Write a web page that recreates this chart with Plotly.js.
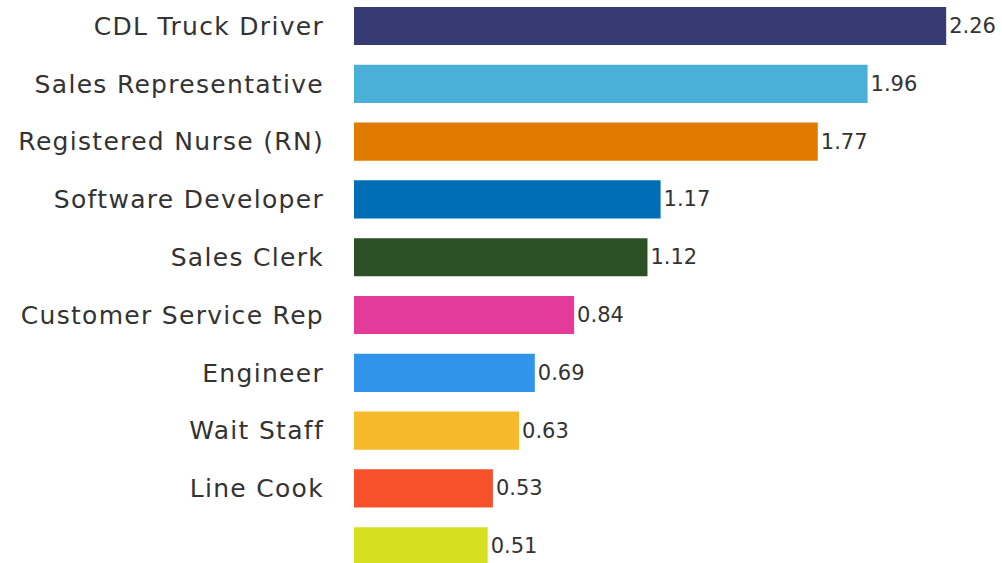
<!DOCTYPE html>
<html>
<head>
<meta charset="utf-8">
<script src="https://cdn.plot.ly/plotly-3.0.1.min.js"></script>
<style>
html,body{margin:0;padding:0;background:#fff;}
#chart{width:1002px;height:563px;}
#chart .ytick text{letter-spacing:1.3px;}
</style>
</head>
<body>
<div id="chart"></div>
<script>
const categories = ["CDL Truck Driver", "Sales Representative", "Registered Nurse (RN)", "Software Developer", "Sales Clerk", "Customer Service Rep", "Engineer", "Wait Staff", "Line Cook", ""];
const values = [2.26, 1.96, 1.77, 1.17, 1.12, 0.84, 0.69, 0.63, 0.53, 0.51];
const valueLabels = ["2.26", "1.96", "1.77", "1.17", "1.12", "0.84", "0.69", "0.63", "0.53", "0.51"];
const barColors = ["#363C73", "#4BB0D8", "#E07B00", "#006DB7", "#2C5127", "#E43A99", "#3094EA", "#F6B92B", "#F6512B", "#D7DF21"];

const positions = categories.map((_, i) => i);

const trace = {
  type: "bar",
  orientation: "h",
  x: values,
  y: positions,
  text: valueLabels,
  textposition: "outside",
  cliponaxis: false,
  textfont: {family: "DejaVu Sans, sans-serif", size: 21, color: "#333333"},
  marker: {color: barColors, line: {width: 0}},
  width: 0.66,
  hoverinfo: "none"
};

const layout = {
  width: 1002,
  height: 563,
  margin: {l: 354, r: 0, t: 0, b: 0, pad: 0},
  paper_bgcolor: "#ffffff",
  plot_bgcolor: "#ffffff",
  showlegend: false,
  xaxis: {range: [0, 2.473], visible: false, showgrid: false, zeroline: false, fixedrange: true},
  yaxis: {
    range: [9.29, -0.45],
    tickvals: positions,
    ticktext: categories,
    showgrid: false, zeroline: false, showline: false,
    ticks: "",
    ticklabelstandoff: 29,
    tickfont: {family: "DejaVu Sans, sans-serif", size: 25, color: "#333333"},
    fixedrange: true
  },
  font: {family: "DejaVu Sans, sans-serif", color: "#333333"}
};

Plotly.newPlot("chart", [trace], layout, {displayModeBar: false, staticPlot: true});
</script>
</body>
</html>
